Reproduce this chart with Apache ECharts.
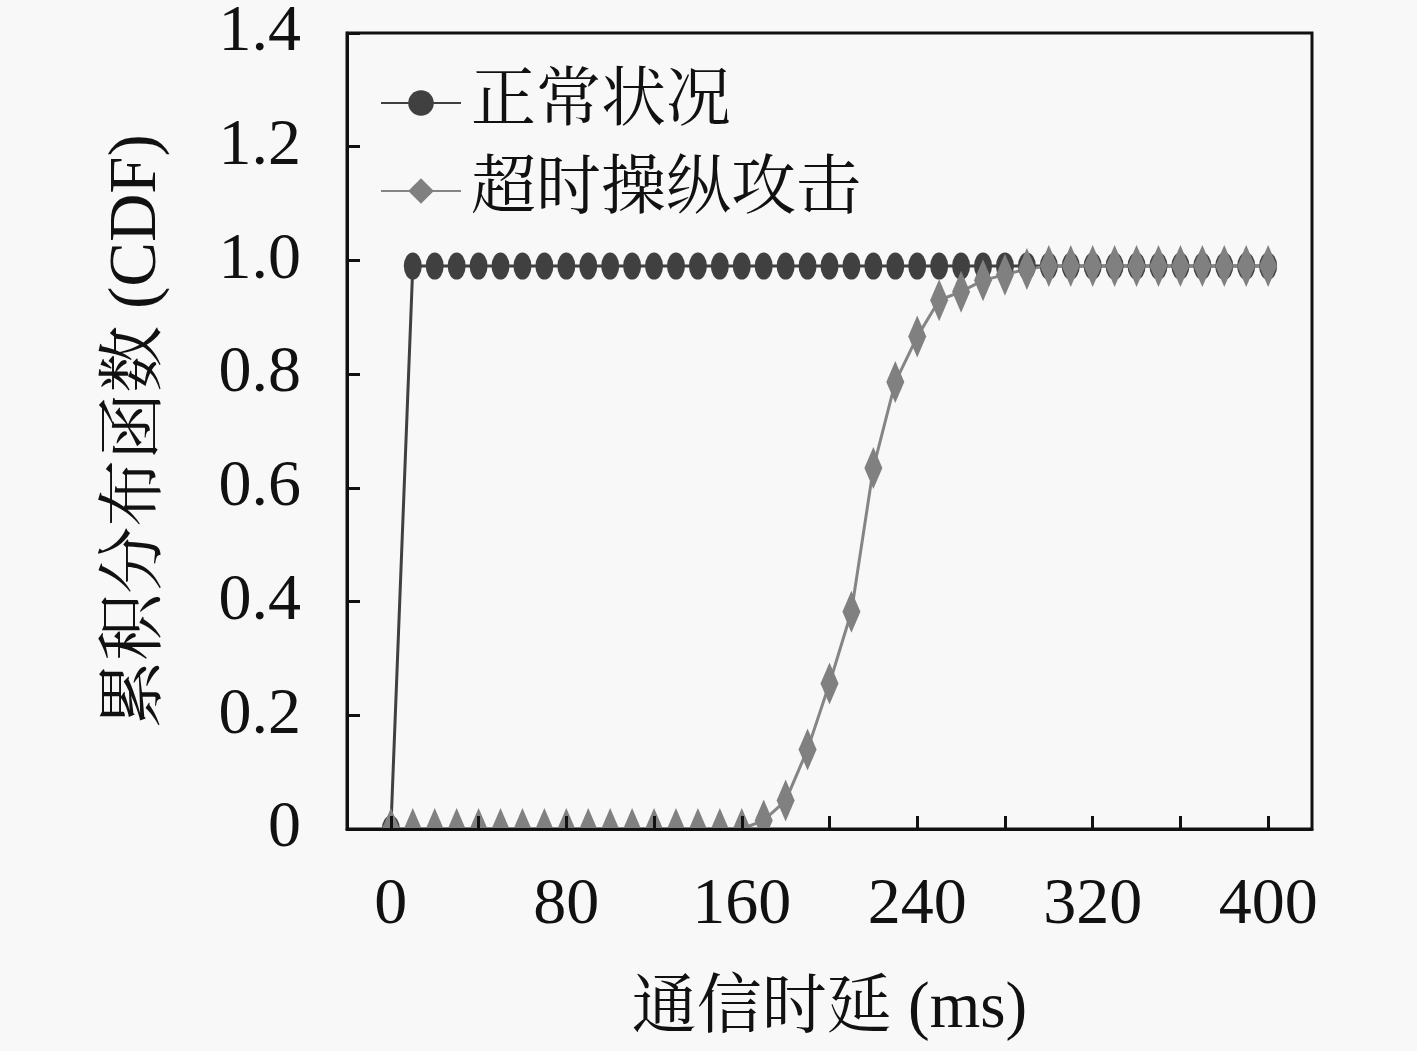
<!DOCTYPE html>
<html>
<head>
<meta charset="utf-8">
<script src="https://cdn.jsdelivr.net/npm/echarts@6/dist/echarts.min.js"></script>
<style>
html, body { margin: 0; background: #f8f8f8; }
#chart { width: 1417px; height: 1051px; }
</style>
</head>
<body>
<div id="chart"></div>
<script>
// 通信时延 (ms)
var delays = [0, 10, 20, 30, 40, 50, 60, 70, 80, 90, 100, 110, 120, 130, 140, 150, 160, 170, 180, 190,
  200, 210, 220, 230, 240, 250, 260, 270, 280, 290, 300, 310, 320, 330, 340, 350, 360, 370, 380, 390, 400];
// 正常状况
var normalCdf = [0, 0.99, 0.99, 0.99, 0.99, 0.99, 0.99, 0.99, 0.99, 0.99, 0.99, 0.99, 0.99, 0.99, 0.99, 0.99,
  0.99, 0.99, 0.99, 0.99, 0.99, 0.99, 0.99, 0.99, 0.99, 0.99, 0.99, 0.99, 0.99, 0.99, 0.99, 0.99, 0.99,
  0.99, 0.99, 0.99, 0.99, 0.99, 0.99, 0.99, 0.99];
// 超时操纵攻击
var attackCdf = [0, 0, 0, 0, 0, 0, 0, 0, 0, 0, 0, 0, 0, 0, 0, 0, 0, 0.015, 0.05, 0.14,
  0.256, 0.382, 0.635, 0.786, 0.866, 0.93, 0.945, 0.965, 0.975, 0.985, 0.99, 0.99, 0.99, 0.99, 0.99,
  0.99, 0.99, 0.99, 0.99, 0.99, 0.99];
var xTicks = [0, 40, 80, 120, 160, 200, 240, 280, 320, 360, 400];
var xLabels = [0, 80, 160, 240, 320, 400];
var seriesNames = ['正常状况', '超时操纵攻击'];

var font = '"Liberation Serif", "Noto Serif CJK SC", "Noto Sans CJK SC", serif';
var bg = '#f8f8f8';

function pairs(ys) {
  return delays.map(function (x, i) { return [x, ys[i]]; });
}

var chart = echarts.init(document.getElementById('chart'));

var option = {
  backgroundColor: bg,
  animation: false,
  grid: {
    left: 347, right: 105, top: 27, bottom: 222,
    show: true, borderColor: '#111', borderWidth: 3, backgroundColor: 'transparent'
  },
  legend: {
    orient: 'vertical',
    left: 375, top: 62,
    itemWidth: 80, itemHeight: 32, itemGap: 16,
    textStyle: { fontFamily: font, fontSize: 65, color: '#111', lineHeight: 72, padding: [0, 0, 0, 5] },
    data: seriesNames
  },
  // hides the lower half of markers sitting on the x axis
  graphic: [{
    type: 'rect', z: 10,
    shape: { x: 330, y: 831, width: 1000, height: 30 },
    style: { fill: bg }
  }],
  xAxis: {
    type: 'value', min: -20, max: 420, z: 20,
    name: '通信时延 (ms)', nameLocation: 'middle', nameGap: 148,
    nameTextStyle: { fontFamily: font, fontSize: 65, color: '#111' },
    axisLine: { onZero: false, lineStyle: { color: '#111', width: 3 } },
    axisTick: { inside: true, length: 13, lineStyle: { color: '#111', width: 3 }, customValues: xTicks },
    axisLabel: { margin: 44, fontFamily: font, fontSize: 66, color: '#111', customValues: xLabels },
    splitLine: { show: false }
  },
  yAxis: {
    type: 'value', min: 0, max: 1.4, interval: 0.2, z: 20,
    name: '累积分布函数 (CDF)', nameLocation: 'middle', nameGap: 176, nameRotate: 90,
    nameTextStyle: { fontFamily: font, fontSize: 67, color: '#111' },
    axisLine: { onZero: false, lineStyle: { color: '#111', width: 3 } },
    axisTick: { inside: true, length: 13, lineStyle: { color: '#111', width: 3 } },
    axisLabel: {
      margin: 46, fontFamily: font, fontSize: 66, color: '#111',
      formatter: function (v) { return v === 0 ? '0' : v.toFixed(1); }
    },
    splitLine: { show: false }
  },
  series: [
    {
      name: seriesNames[0], type: 'line', data: pairs(normalCdf),
      symbol: 'circle', symbolSize: [18, 27], clip: false,
      lineStyle: { color: '#404040', width: 3 },
      itemStyle: { color: '#404040' }
    },
    {
      name: seriesNames[1], type: 'line', data: pairs(attackCdf),
      symbol: 'diamond', symbolSize: [18, 42], clip: false,
      lineStyle: { color: '#858585', width: 3 },
      itemStyle: { color: '#808080' }
    }
  ]
};

chart.setOption(option);
</script>
</body>
</html>
